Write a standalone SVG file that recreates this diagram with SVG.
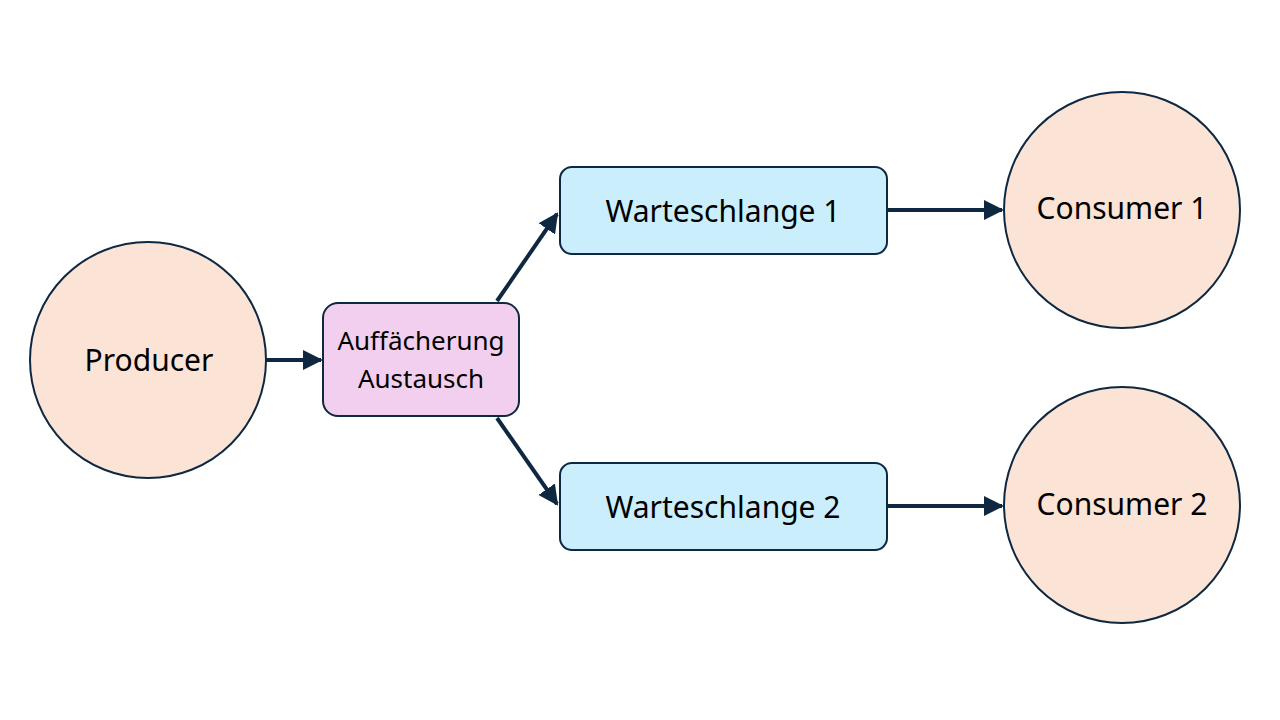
<svg xmlns="http://www.w3.org/2000/svg" width="1280" height="720" viewBox="0 0 1280 720">
<style>
.circ{fill:#FBE3D6;stroke:#0E2841;stroke-width:2}
.ex{fill:#F2CFEE;stroke:#0E2841;stroke-width:2}
.q{fill:#CAEEFB;stroke:#0E2841;stroke-width:2}
.t{font-family:"Noto Sans","Open Sans",sans-serif;fill:#000;text-anchor:middle;dominant-baseline:central}
.big{font-size:30px}
.sm{font-size:26px}
.c{stroke:#0E2841;stroke-width:4;fill:none;marker-end:url(#ah)}
</style>
<defs>
<marker id="ah" markerWidth="5" markerHeight="5" refX="4.5" refY="2.5" orient="auto" markerUnits="strokeWidth">
<path d="M0,0 L5,2.5 L0,5 Z" fill="#0E2841"/>
</marker>
</defs>
<rect width="1280" height="720" fill="#fff"/>
<g id="connectors">
<line class="c" x1="266" y1="360" x2="321" y2="360"/>
<line class="c" x1="497" y1="301" x2="557" y2="214"/>
<line class="c" x1="497" y1="418" x2="557" y2="504"/>
<line class="c" x1="888" y1="210" x2="1002" y2="210"/>
<line class="c" x1="888" y1="506" x2="1002" y2="506"/>
</g>
<g id="producer">
<circle class="circ" cx="148" cy="360" r="118"/>
<text class="t big" x="149" y="359">Producer</text>
</g>
<g id="exchange">
<rect class="ex" x="323" y="303" width="196" height="113" rx="15"/>
<text class="t sm" x="421" y="340">Auffächerung</text>
<text class="t sm" x="421" y="378">Austausch</text>
</g>
<g id="queue1">
<rect class="q" x="560" y="167" width="327" height="87" rx="12"/>
<text class="t big" x="723" y="210">Warteschlange 1</text>
</g>
<g id="queue2">
<rect class="q" x="560" y="463" width="327" height="87" rx="12"/>
<text class="t big" x="723" y="506">Warteschlange 2</text>
</g>
<g id="consumer1">
<circle class="circ" cx="1122" cy="210" r="118"/>
<text class="t big" x="1122" y="207">Consumer 1</text>
</g>
<g id="consumer2">
<circle class="circ" cx="1122" cy="505" r="118"/>
<text class="t big" x="1122" y="503">Consumer 2</text>
</g>
</svg>
